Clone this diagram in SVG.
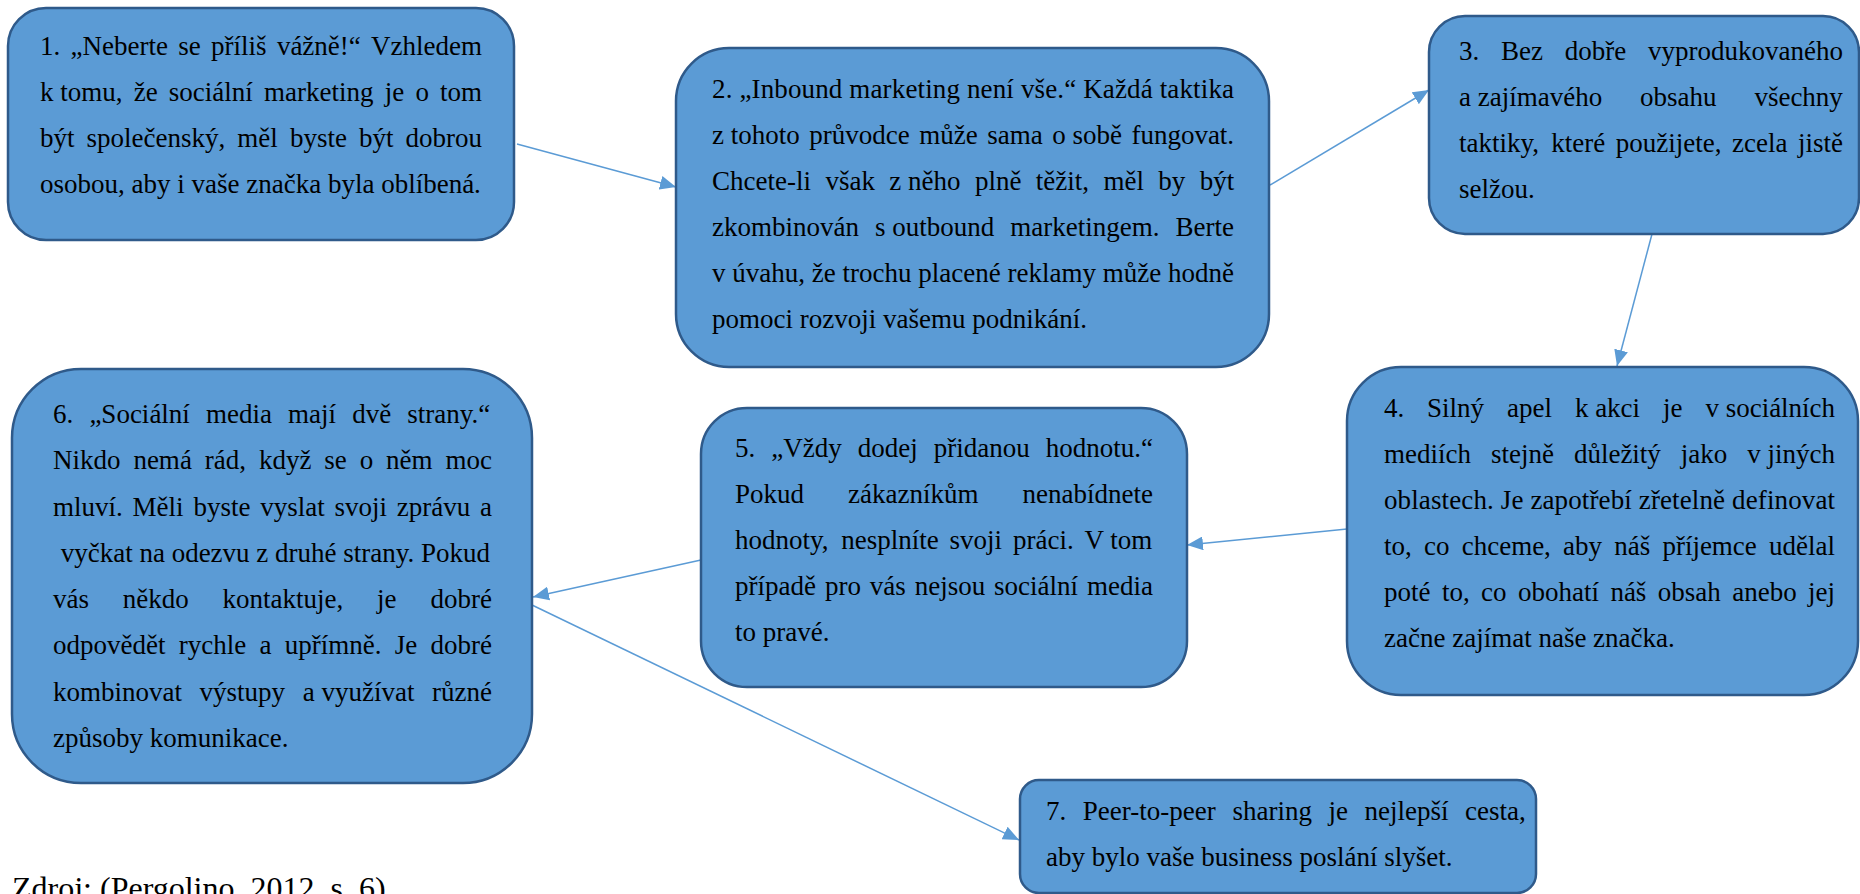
<svg xmlns="http://www.w3.org/2000/svg" width="1860" height="894" viewBox="0 0 1860 894">
<style>
.box{fill:#5B9BD5;stroke:#2F5A8A;stroke-width:2.5}
.t{font-family:"Liberation Serif","Times New Roman",serif;font-size:27px;fill:#000}
.src{font-family:"Liberation Serif","Times New Roman",serif;font-size:32px;fill:#000}
.conn line{stroke:#5B9BD5;stroke-width:1.5;fill:none;marker-end:url(#arr)}
</style>
<defs>
<marker id="arr" markerUnits="userSpaceOnUse" markerWidth="16" markerHeight="14" refX="16" refY="7" orient="auto">
<path d="M0,0 L16,7 L0,14 Z" fill="#5B9BD5"/>
</marker>
</defs>
<rect width="1860" height="894" fill="#fff"/>

<g id="connectors" class="conn">
<line x1="517" y1="144" x2="676" y2="187"/>
<line x1="1270" y1="185" x2="1429" y2="90"/>
<line x1="1652" y1="234" x2="1617" y2="366"/>
<line x1="1347" y1="529" x2="1187" y2="545"/>
<line x1="701" y1="560" x2="533" y2="597"/>
<line x1="532" y1="605" x2="1019" y2="840"/>
</g>

<g id="node1">
<rect class="box" x="8" y="8" width="506" height="232" rx="38"/>
<text class="t" y="55"><tspan x="40">1.</tspan><tspan x="70.6">„Neberte</tspan><tspan x="178.3">se</tspan><tspan x="211">příliš</tspan><tspan x="276.9">vážně!“</tspan><tspan x="371">Vzhledem</tspan></text>
<text class="t" y="101"><tspan x="40">k tomu,</tspan><tspan x="133.7">že</tspan><tspan x="168.8">sociální</tspan><tspan x="264">marketing</tspan><tspan x="384.7">je</tspan><tspan x="415.4">o</tspan><tspan x="440">tom</tspan></text>
<text class="t" y="147"><tspan x="40">být</tspan><tspan x="86.6">společenský,</tspan><tspan x="237.3">měl</tspan><tspan x="289.9">byste</tspan><tspan x="358.9">být</tspan><tspan x="405.5">dobrou</tspan></text>
<text class="t" x="40" y="193">osobou, aby i vaše značka byla oblíbená.</text>
</g>

<g id="node2">
<rect class="box" x="676" y="48" width="593" height="319" rx="53"/>
<text class="t" x="712" y="98" textLength="522" lengthAdjust="spacing">2. „Inbound marketing není vše.“ Každá taktika</text>
<text class="t" y="144"><tspan x="712">z tohoto</tspan><tspan x="809.2">průvodce</tspan><tspan x="919.2">může</tspan><tspan x="987.2">sama</tspan><tspan x="1052.2">o sobě</tspan><tspan x="1131.4">fungovat.</tspan></text>
<text class="t" y="190"><tspan x="712">Chcete-li</tspan><tspan x="825.4">však</tspan><tspan x="889.3">z něho</tspan><tspan x="974.9">plně</tspan><tspan x="1035.8">těžit,</tspan><tspan x="1103.4">měl</tspan><tspan x="1158.3">by</tspan><tspan x="1199.7">být</tspan></text>
<text class="t" y="236"><tspan x="712">zkombinován</tspan><tspan x="875">s outbound</tspan><tspan x="1010.3">marketingem.</tspan><tspan x="1175.5">Berte</tspan></text>
<text class="t" x="712" y="282" textLength="522" lengthAdjust="spacing">v úvahu, že trochu placené reklamy může hodně</text>
<text class="t" x="712" y="328">pomoci rozvoji vašemu podnikání.</text>
</g>

<g id="node3">
<rect class="box" x="1429" y="16" width="430" height="218" rx="36"/>
<text class="t" y="60"><tspan x="1459">3.</tspan><tspan x="1501">Bez</tspan><tspan x="1564.8">dobře</tspan><tspan x="1648.1">vyprodukovaného</tspan></text>
<text class="t" y="106"><tspan x="1459">a zajímavého</tspan><tspan x="1640.1">obsahu</tspan><tspan x="1754.4">všechny</tspan></text>
<text class="t" y="152"><tspan x="1459">taktiky,</tspan><tspan x="1551.3">které</tspan><tspan x="1615.8">použijete,</tspan><tspan x="1732">zcela</tspan><tspan x="1798">jistě</tspan></text>
<text class="t" x="1459" y="198">selžou.</text>
</g>

<g id="node4">
<rect class="box" x="1347" y="367" width="511" height="328" rx="54"/>
<text class="t" y="417"><tspan x="1384">4.</tspan><tspan x="1427.1">Silný</tspan><tspan x="1507">apel</tspan><tspan x="1574.9">k akci</tspan><tspan x="1663">je</tspan><tspan x="1705.4">v sociálních</tspan></text>
<text class="t" y="463"><tspan x="1384">mediích</tspan><tspan x="1490.9">stejně</tspan><tspan x="1573.9">důležitý</tspan><tspan x="1680.8">jako</tspan><tspan x="1747.2">v jiných</tspan></text>
<text class="t" x="1384" y="509" textLength="451" lengthAdjust="spacing">oblastech. Je zapotřebí zřetelně definovat</text>
<text class="t" y="555"><tspan x="1384">to,</tspan><tspan x="1424">co</tspan><tspan x="1461.7">chceme,</tspan><tspan x="1563.1">aby</tspan><tspan x="1614.3">náš</tspan><tspan x="1662.4">příjemce</tspan><tspan x="1769.1">udělal</tspan></text>
<text class="t" y="601"><tspan x="1384">poté</tspan><tspan x="1441.9">to,</tspan><tspan x="1481.1">co</tspan><tspan x="1518">obohatí</tspan><tspan x="1610.4">náš</tspan><tspan x="1657.8">obsah</tspan><tspan x="1732.2">anebo</tspan><tspan x="1808.1">jej</tspan></text>
<text class="t" x="1384" y="647">začne zajímat naše značka.</text>
</g>

<g id="node5">
<rect class="box" x="701" y="408" width="486" height="279" rx="46"/>
<text class="t" y="457"><tspan x="735">5.</tspan><tspan x="771.3">„Vždy</tspan><tspan x="857.8">dodej</tspan><tspan x="933.8">přidanou</tspan><tspan x="1045.8">hodnotu.“</tspan></text>
<text class="t" y="503"><tspan x="735">Pokud</tspan><tspan x="848">zákazníkům</tspan><tspan x="1022.5">nenabídnete</tspan></text>
<text class="t" y="549"><tspan x="735">hodnoty,</tspan><tspan x="841.2">nesplníte</tspan><tspan x="949.6">svoji</tspan><tspan x="1013">práci.</tspan><tspan x="1084.6">V tom</tspan></text>
<text class="t" y="595"><tspan x="735">případě</tspan><tspan x="824.9">pro</tspan><tspan x="869.8">vás</tspan><tspan x="914.7">nejsou</tspan><tspan x="994.1">sociální</tspan><tspan x="1087">media</tspan></text>
<text class="t" x="735" y="641">to pravé.</text>
</g>

<g id="node6">
<rect class="box" x="12" y="369" width="520" height="414" rx="69"/>
<text class="t" y="423"><tspan x="53">6.</tspan><tspan x="89.4">„Sociální</tspan><tspan x="206">media</tspan><tspan x="288.1">mají</tspan><tspan x="352.2">dvě</tspan><tspan x="407.3">strany.“</tspan></text>
<text class="t" y="469"><tspan x="53">Nikdo</tspan><tspan x="133.4">nemá</tspan><tspan x="204.8">rád,</tspan><tspan x="258.9">když</tspan><tspan x="324.3">se</tspan><tspan x="359.7">o</tspan><tspan x="386.1">něm</tspan><tspan x="445.5">moc</tspan></text>
<text class="t" y="516"><tspan x="53">mluví.</tspan><tspan x="132.6">Měli</tspan><tspan x="193.4">byste</tspan><tspan x="260.2">vyslat</tspan><tspan x="334.5">svoji</tspan><tspan x="396.8">zprávu</tspan><tspan x="480.1">a</tspan></text>
<text class="t" x="60.7" y="562">vyčkat na odezvu z druhé strany. Pokud</text>
<text class="t" y="608"><tspan x="53">vás</tspan><tspan x="122.8">někdo</tspan><tspan x="222.6">kontaktuje,</tspan><tspan x="377.1">je</tspan><tspan x="430.4">dobré</tspan></text>
<text class="t" y="654"><tspan x="53">odpovědět</tspan><tspan x="178.8">rychle</tspan><tspan x="259.5">a</tspan><tspan x="284.8">upřímně.</tspan><tspan x="394.7">Je</tspan><tspan x="430.5">dobré</tspan></text>
<text class="t" y="701"><tspan x="53">kombinovat</tspan><tspan x="199.6">výstupy</tspan><tspan x="302.7">a využívat</tspan><tspan x="432">různé</tspan></text>
<text class="t" x="53" y="747">způsoby komunikace.</text>
</g>

<g id="node7">
<rect class="box" x="1020" y="780" width="516" height="113" rx="19"/>
<text class="t" y="820"><tspan x="1046">7.</tspan><tspan x="1082.8">Peer-to-peer</tspan><tspan x="1232.6">sharing</tspan><tspan x="1328.6">je</tspan><tspan x="1364.6">nejlepší</tspan><tspan x="1465.1">cesta,</tspan></text>
<text class="t" x="1046" y="866">aby bylo vaše business poslání slyšet.</text>
</g>

<text class="src" x="12" y="899">Zdroj: (Pergolino, 2012, s. 6)</text>
</svg>
